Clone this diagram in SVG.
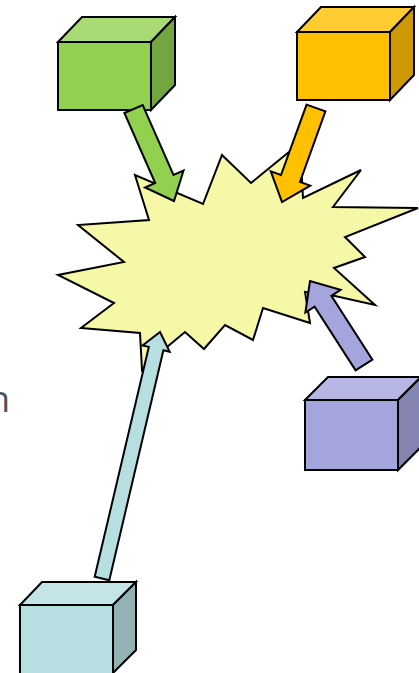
<svg xmlns="http://www.w3.org/2000/svg" width="419" height="673" viewBox="0 0 419 673">
  <style>
    .ol { stroke: #000; stroke-width: 2; stroke-linejoin: miter; }
    .lbl { font-family: "Open Sans", "Liberation Sans", sans-serif; fill: #4d535a; }
  </style>
  <rect width="419" height="673" fill="#fff"/>
  <text class="lbl" x="-12" y="412" font-size="36">n</text>
  <g id="starburst">
    <polygon class="ol" fill="#f7f7a8" points="149,220 135,175 203,204 222,155 251,183 300,143 303,198 361,170 333,207 418,208 345,237 365,257 334,268 375,305 335,296 305,292 310,323 263,308 253,340 225,325 204,349 185,332 167,347 142,370 140,333 81,328 114,303 58,275 124,262 78,225"/>
  </g>
  <g id="cube-green">
    <polygon class="ol" fill="#a9da74" points="58,42 82,17 175,17 151,42"/>
    <polygon class="ol" fill="#74a640" points="151,42 175,17 175,85 151,110"/>
    <rect class="ol" fill="#92d050" x="58" y="42" width="93" height="68"/>
  </g>
  <g id="cube-orange">
    <polygon class="ol" fill="#ffcd33" points="297,32 321,7 414,7 390,32"/>
    <polygon class="ol" fill="#cc9a00" points="390,32 414,7 414,75 390,100"/>
    <rect class="ol" fill="#ffc000" x="297" y="32" width="93" height="68"/>
  </g>
  <g id="cube-purple">
    <polygon class="ol" fill="#b7b7e5" points="305,400 328,377 421,377 398,400"/>
    <polygon class="ol" fill="#8484b2" points="398,400 421,377 421,447 398,470"/>
    <rect class="ol" fill="#a5a5de" x="305" y="400" width="93" height="70"/>
  </g>
  <g id="cube-blue">
    <polygon class="ol" fill="#c5e4e7" points="20,605 42,582 136,582 113,605"/>
    <polygon class="ol" fill="#93b2b4" points="113,605 136,582 136,650 113,673"/>
    <rect class="ol" fill="#b7dee1" x="20" y="605" width="93" height="70"/>
  </g>
  <g id="connectors">
    <polygon class="ol" fill="#92d050" points="124.4,113 142.7,105 173.5,175 183.5,170.5 174,201 145.1,187.5 155.2,183"/>
    <polygon class="ol" fill="#ffc000" points="306.6,104.6 325.4,111.4 300,182 310.2,185.6 282,202 270.8,171.4 281,175"/>
    <polygon class="ol" fill="#a5a5de" points="372.4,359.6 355.6,370.4 314.6,306.6 305.4,312.5 310,281 340.6,289.9 331.4,295.8"/>
    <polygon class="ol" fill="#b7dee1" points="94.7,576.8 109.3,580.2 163.4,350.3 169.7,351.8 160,332 142.5,345.4 148.8,346.9"/>
  </g>
</svg>
